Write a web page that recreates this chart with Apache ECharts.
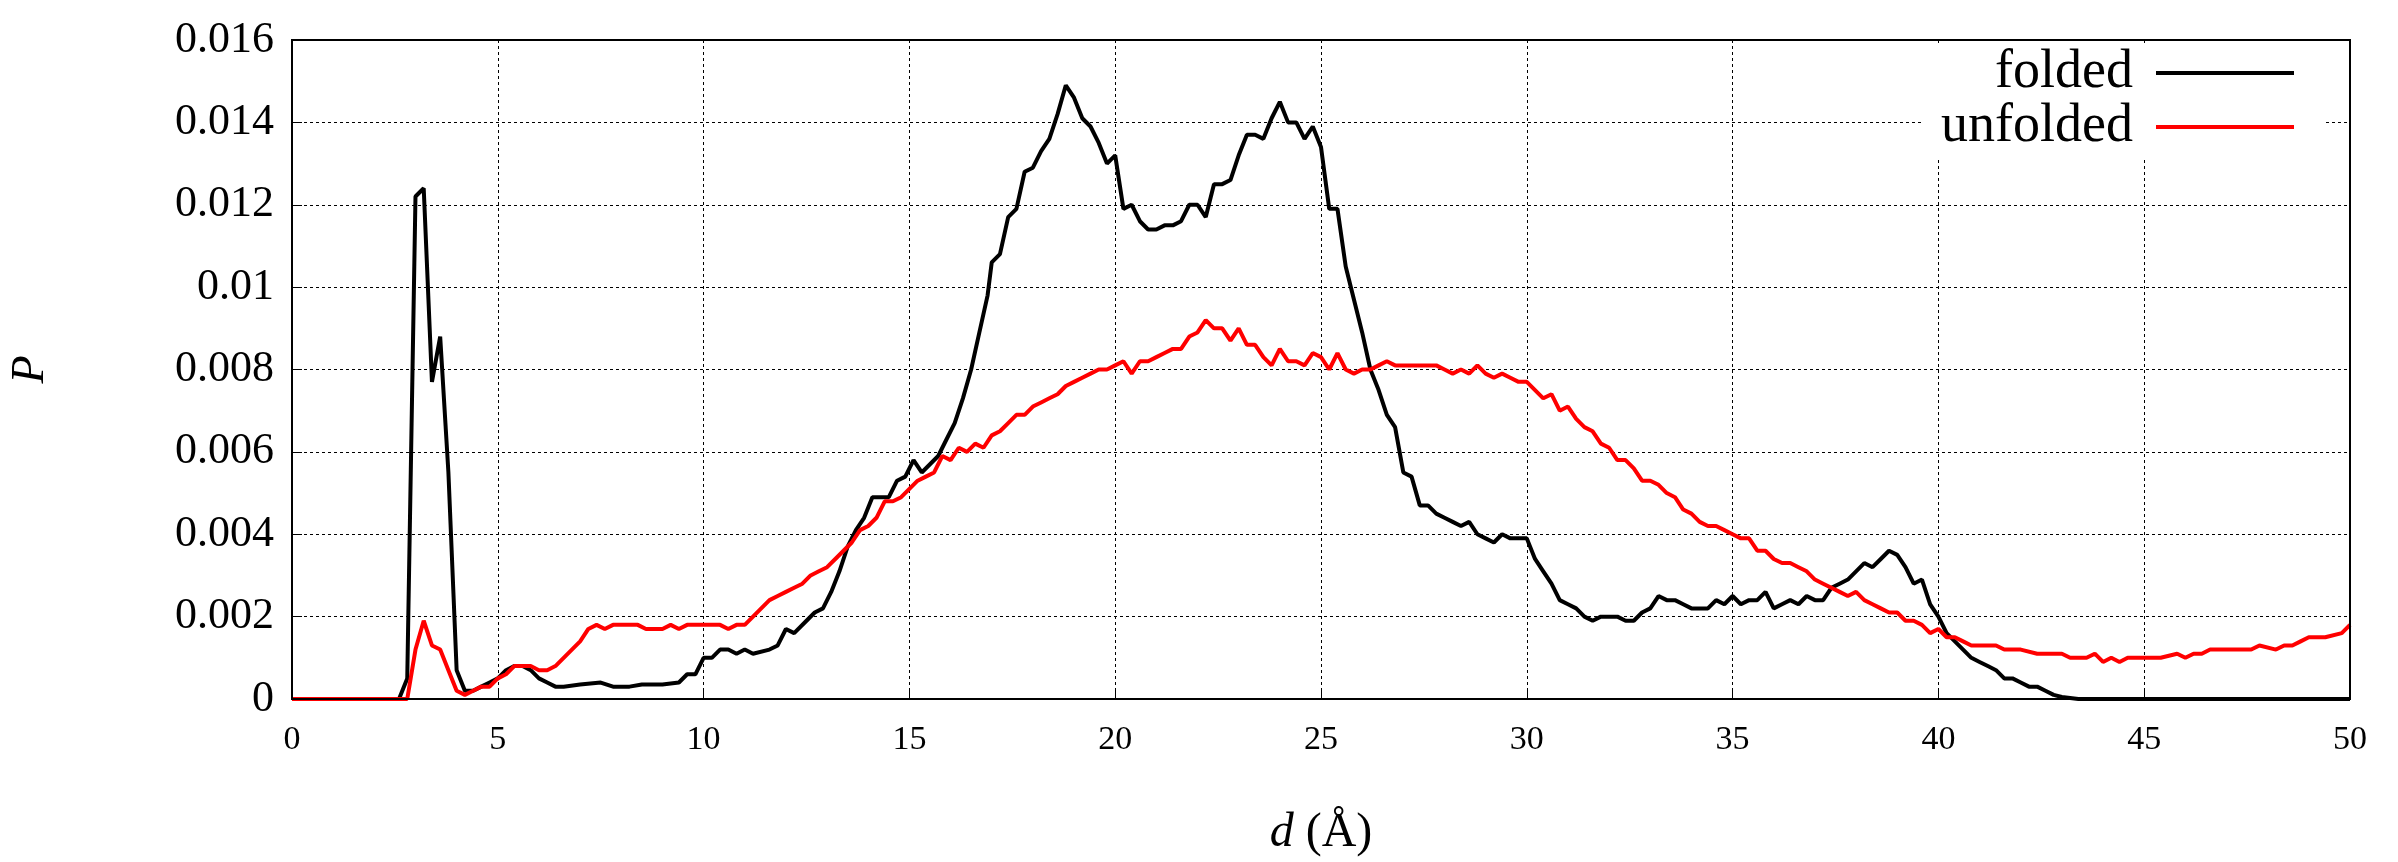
<!DOCTYPE html>
<html><head><meta charset="utf-8">
<script src="https://cdn.jsdelivr.net/npm/echarts@6/dist/echarts.min.js"></script>
<style>html,body{margin:0;padding:0;background:#fff}#c{width:2398px;height:862px}</style>
</head><body><div id="c"></div>
<script>
const folded = [[0,0],[1,0],[2,0],[2.6,0],[2.8,0.0005],[3.0,0.0122],[3.2,0.0124],[3.4,0.0077],[3.6,0.0088],[3.8,0.0055],[4.0,0.0007],[4.2,0.0002],[4.4,0.0002],[4.6,0.0003],[4.8,0.0004],[5.0,0.0005],[5.2,0.0007],[5.4,0.0008],[5.6,0.0008],[5.8,0.0007],[6.0,0.0005],[6.2,0.0004],[6.4,0.0003],[6.6,0.0003],[7,0.00035],[7.5,0.0004],[7.8,0.0003],[8.2,0.0003],[8.5,0.00035],[9,0.00035],[9.4,0.0004],[9.6,0.0006],[9.8,0.0006],[10,0.0010],[10.2,0.0010],[10.4,0.0012],[10.6,0.0012],[10.8,0.0011],[11,0.0012],[11.2,0.0011],[11.6,0.0012],[11.8,0.0013],[12,0.0017],[12.2,0.0016],[12.5,0.0019],[12.7,0.0021],[12.9,0.0022],[13.1,0.0026],[13.3,0.0031],[13.5,0.0037],[13.7,0.0041],[13.9,0.0044],[14.1,0.0049],[14.3,0.0049],[14.5,0.0049],[14.7,0.0053],[14.9,0.0054],[15.1,0.0058],[15.3,0.0055],[15.5,0.0057],[15.7,0.0059],[15.9,0.0063],[16.1,0.0067],[16.3,0.0073],[16.5,0.0080],[16.7,0.0089],[16.9,0.0098],[17.0,0.0106],[17.2,0.0108],[17.4,0.0117],[17.6,0.0119],[17.8,0.0128],[18.0,0.0129],[18.2,0.0133],[18.4,0.0136],[18.6,0.0142],[18.8,0.0149],[19.0,0.0146],[19.2,0.0141],[19.4,0.0139],[19.6,0.0135],[19.8,0.0130],[20.0,0.0132],[20.2,0.0119],[20.4,0.0120],[20.6,0.0116],[20.8,0.0114],[21.0,0.0114],[21.2,0.0115],[21.4,0.0115],[21.6,0.0116],[21.8,0.0120],[22.0,0.0120],[22.2,0.0117],[22.4,0.0125],[22.6,0.0125],[22.8,0.0126],[23.0,0.0132],[23.2,0.0137],[23.4,0.0137],[23.6,0.0136],[23.8,0.0141],[24.0,0.0145],[24.2,0.0140],[24.4,0.0140],[24.6,0.0136],[24.8,0.0139],[25.0,0.0134],[25.2,0.0119],[25.4,0.0119],[25.6,0.0105],[25.8,0.0097],[26.0,0.0089],[26.2,0.0080],[26.4,0.0075],[26.6,0.0069],[26.8,0.0066],[27.0,0.0055],[27.2,0.0054],[27.4,0.0047],[27.6,0.0047],[27.8,0.0045],[28.0,0.0044],[28.2,0.0043],[28.4,0.0042],[28.6,0.0043],[28.8,0.0040],[29.0,0.0039],[29.2,0.0038],[29.4,0.0040],[29.6,0.0039],[29.8,0.0039],[30.0,0.0039],[30.2,0.0034],[30.4,0.0031],[30.6,0.0028],[30.8,0.0024],[31.0,0.0023],[31.2,0.0022],[31.4,0.0020],[31.6,0.0019],[31.8,0.0020],[32.0,0.0020],[32.2,0.0020],[32.4,0.0019],[32.6,0.0019],[32.8,0.0021],[33.0,0.0022],[33.2,0.0025],[33.4,0.0024],[33.6,0.0024],[33.8,0.0023],[34.0,0.0022],[34.2,0.0022],[34.4,0.0022],[34.6,0.0024],[34.8,0.0023],[35.0,0.0025],[35.2,0.0023],[35.4,0.0024],[35.6,0.0024],[35.8,0.0026],[36.0,0.0022],[36.2,0.0023],[36.4,0.0024],[36.6,0.0023],[36.8,0.0025],[37.0,0.0024],[37.2,0.0024],[37.4,0.0027],[37.6,0.0028],[37.8,0.0029],[38.0,0.0031],[38.2,0.0033],[38.4,0.0032],[38.6,0.0034],[38.8,0.0036],[39.0,0.0035],[39.2,0.0032],[39.4,0.0028],[39.6,0.0029],[39.8,0.0023],[40.0,0.0020],[40.2,0.0016],[40.4,0.0014],[40.6,0.0012],[40.8,0.0010],[41.0,0.0009],[41.2,0.0008],[41.4,0.0007],[41.6,0.0005],[41.8,0.0005],[42.0,0.0004],[42.2,0.0003],[42.4,0.0003],[42.6,0.0002],[42.8,0.0001],[43.0,0.00005],[43.4,0],[45,0],[48,0],[50,0]];
const unfolded = [[0,0],[1,0],[2,0],[2.8,0],[3.0,0.0012],[3.2,0.0019],[3.4,0.0013],[3.6,0.0012],[3.8,0.0007],[4.0,0.0002],[4.2,0.0001],[4.4,0.0002],[4.6,0.0003],[4.8,0.0003],[5.0,0.0005],[5.2,0.0006],[5.4,0.0008],[5.6,0.0008],[5.8,0.0008],[6.0,0.0007],[6.2,0.0007],[6.4,0.0008],[6.6,0.0010],[6.8,0.0012],[7.0,0.0014],[7.2,0.0017],[7.4,0.0018],[7.6,0.0017],[7.8,0.0018],[8.0,0.0018],[8.2,0.0018],[8.4,0.0018],[8.6,0.0017],[8.8,0.0017],[9.0,0.0017],[9.2,0.0018],[9.4,0.0017],[9.6,0.0018],[9.8,0.0018],[10,0.0018],[10.2,0.0018],[10.4,0.0018],[10.6,0.0017],[10.8,0.0018],[11,0.0018],[11.2,0.0020],[11.4,0.0022],[11.6,0.0024],[11.8,0.0025],[12.0,0.0026],[12.2,0.0027],[12.4,0.0028],[12.6,0.0030],[12.8,0.0031],[13.0,0.0032],[13.2,0.0034],[13.4,0.0036],[13.6,0.0038],[13.8,0.0041],[14.0,0.0042],[14.2,0.0044],[14.4,0.0048],[14.6,0.0048],[14.8,0.0049],[15.0,0.0051],[15.2,0.0053],[15.4,0.0054],[15.6,0.0055],[15.8,0.0059],[16.0,0.0058],[16.2,0.0061],[16.4,0.0060],[16.6,0.0062],[16.8,0.0061],[17.0,0.0064],[17.2,0.0065],[17.4,0.0067],[17.6,0.0069],[17.8,0.0069],[18.0,0.0071],[18.2,0.0072],[18.4,0.0073],[18.6,0.0074],[18.8,0.0076],[19.0,0.0077],[19.2,0.0078],[19.4,0.0079],[19.6,0.0080],[19.8,0.0080],[20.0,0.0081],[20.2,0.0082],[20.4,0.0079],[20.6,0.0082],[20.8,0.0082],[21.0,0.0083],[21.2,0.0084],[21.4,0.0085],[21.6,0.0085],[21.8,0.0088],[22.0,0.0089],[22.2,0.0092],[22.4,0.0090],[22.6,0.0090],[22.8,0.0087],[23.0,0.0090],[23.2,0.0086],[23.4,0.0086],[23.6,0.0083],[23.8,0.0081],[24.0,0.0085],[24.2,0.0082],[24.4,0.0082],[24.6,0.0081],[24.8,0.0084],[25.0,0.0083],[25.2,0.0080],[25.4,0.0084],[25.6,0.0080],[25.8,0.0079],[26,0.0080],[26.2,0.0080],[26.4,0.0081],[26.6,0.0082],[26.8,0.0081],[27,0.0081],[27.4,0.0081],[27.8,0.0081],[28.0,0.0080],[28.2,0.0079],[28.4,0.0080],[28.6,0.0079],[28.8,0.0081],[29.0,0.0079],[29.2,0.0078],[29.4,0.0079],[29.6,0.0078],[29.8,0.0077],[30.0,0.0077],[30.2,0.0075],[30.4,0.0073],[30.6,0.0074],[30.8,0.0070],[31.0,0.0071],[31.2,0.0068],[31.4,0.0066],[31.6,0.0065],[31.8,0.0062],[32.0,0.0061],[32.2,0.0058],[32.4,0.0058],[32.6,0.0056],[32.8,0.0053],[33.0,0.0053],[33.2,0.0052],[33.4,0.0050],[33.6,0.0049],[33.8,0.0046],[34.0,0.0045],[34.2,0.0043],[34.4,0.0042],[34.6,0.0042],[34.8,0.0041],[35.0,0.0040],[35.2,0.0039],[35.4,0.0039],[35.6,0.0036],[35.8,0.0036],[36.0,0.0034],[36.2,0.0033],[36.4,0.0033],[36.6,0.0032],[36.8,0.0031],[37.0,0.0029],[37.2,0.0028],[37.4,0.0027],[37.6,0.0026],[37.8,0.0025],[38.0,0.0026],[38.2,0.0024],[38.4,0.0023],[38.6,0.0022],[38.8,0.0021],[39.0,0.0021],[39.2,0.0019],[39.4,0.0019],[39.6,0.0018],[39.8,0.0016],[40.0,0.0017],[40.2,0.0015],[40.4,0.0015],[40.6,0.0014],[40.8,0.0013],[41.0,0.0013],[41.2,0.0013],[41.4,0.0013],[41.6,0.0012],[41.8,0.0012],[42.0,0.0012],[42.4,0.0011],[42.8,0.0011],[43.0,0.0011],[43.2,0.0010],[43.4,0.0010],[43.6,0.0010],[43.8,0.0011],[44.0,0.0009],[44.2,0.0010],[44.4,0.0009],[44.6,0.0010],[44.8,0.0010],[45,0.0010],[45.4,0.0010],[45.8,0.0011],[46.0,0.0010],[46.2,0.0011],[46.4,0.0011],[46.6,0.0012],[47,0.0012],[47.4,0.0012],[47.6,0.0012],[47.8,0.0013],[48.2,0.0012],[48.4,0.0013],[48.6,0.0013],[48.8,0.0014],[49.0,0.0015],[49.4,0.0015],[49.8,0.0016],[50,0.0018]];
const seriesNames = ['folded','unfolded'];
const font = 'Liberation Serif';
const chart = echarts.init(document.getElementById('c'));
chart.setOption({
  animation:false,
  backgroundColor:'#fff',
  grid:{left:280,right:48,top:40,bottom:155,show:true,borderColor:'#000',borderWidth:2,z:5},
  legend:{data:seriesNames,right:74,top:46,orient:'vertical',align:'right',itemWidth:138,itemHeight:4,itemGap:0,
    backgroundColor:'#fff',padding:[0,30,4,20],
    icon:'rect',textStyle:{fontFamily:font,fontSize:54,color:'#000',lineHeight:52,padding:[0,18,0,0]}},
  xAxis:{type:'value',min:0,max:50,interval:5,
    axisLine:{show:false},axisTick:{show:true,inside:true,length:10,lineStyle:{color:'#000'}},
    splitLine:{show:true,lineStyle:{color:'#000',type:[3,3],width:1}},
    axisLabel:{fontFamily:font,fontSize:34,color:'#000',margin:24},
    name:'{i|d} (Å)',nameLocation:'middle',nameGap:110,
    nameTextStyle:{fontFamily:font,fontSize:48,color:'#000',rich:{i:{fontFamily:font,fontStyle:'italic',fontSize:48}}}},
  yAxis:{type:'value',min:0,max:0.016,interval:0.002,
    axisLine:{show:false},axisTick:{show:true,inside:true,length:10,lineStyle:{color:'#000'}},
    splitLine:{show:true,lineStyle:{color:'#000',type:[3,3],width:1}},
    axisLabel:{fontFamily:font,fontSize:44,color:'#000',margin:18,formatter:v=>v===0?'0':String(+v.toFixed(3))},
    name:'P',nameLocation:'middle',nameGap:238,nameRotate:90,
    nameTextStyle:{fontFamily:font,fontStyle:'italic',fontSize:46,color:'#000'}},
  series:[
    {name:seriesNames[0],type:'line',data:folded,showSymbol:false,symbol:'none',lineStyle:{color:'#000',width:4},itemStyle:{color:'#000'},z:3},
    {name:seriesNames[1],type:'line',data:unfolded,showSymbol:false,symbol:'none',lineStyle:{color:'#f00',width:4},itemStyle:{color:'#f00'},z:4}
  ]
});
</script></body></html>
